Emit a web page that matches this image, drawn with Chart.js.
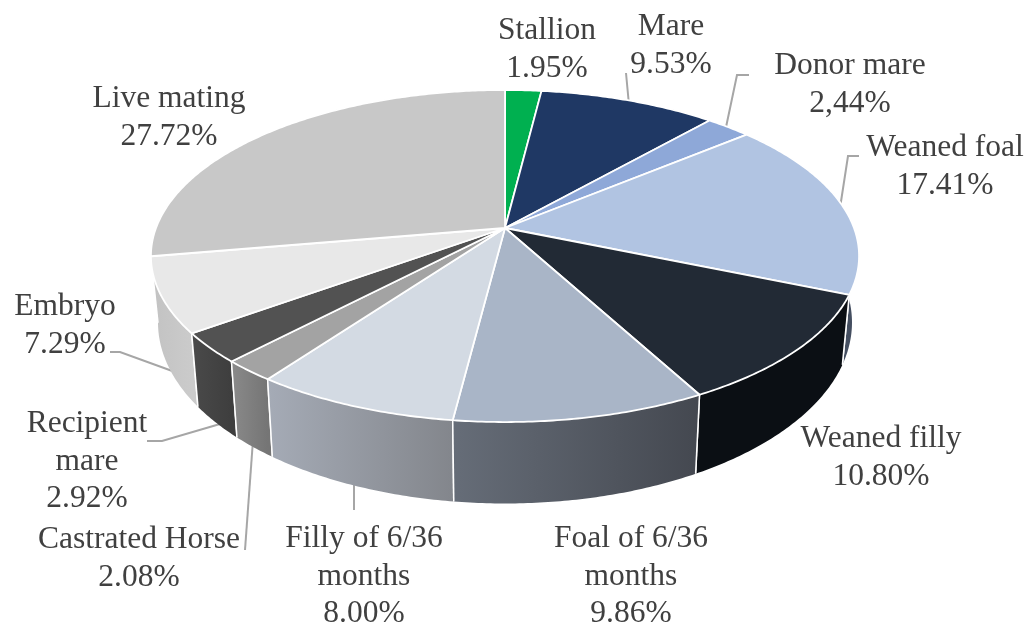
<!DOCTYPE html>
<html>
<head>
<meta charset="utf-8">
<title>Horse categories</title>
<script src="https://cdn.jsdelivr.net/npm/chart.js@4"></script>
<style>
  html, body { margin: 0; padding: 0; background: #fff; }
  canvas { display: block; filter: blur(0.5px); }
</style>
</head>
<body>
<canvas id="chart" width="1029" height="625"></canvas>
<script>
const categories = ['Stallion', 'Mare', 'Donor mare', 'Weaned foal', 'Weaned filly', 'Foal of 6/36 months', 'Filly of 6/36 months', 'Castrated Horse', 'Recipient mare', 'Embryo', 'Live mating'];
const shares = [1.95, 9.53, 2.44, 17.41, 10.80, 9.86, 8.00, 2.08, 2.92, 7.29, 27.72];
const shareTexts = ['1.95%', '9.53%', '2,44%', '17.41%', '10.80%', '9.86%', '8.00%', '2.08%', '2.92%', '7.29%', '27.72%'];

const topColors = ['#00b050', '#1f3864', '#8ea8d8', '#b1c4e2', '#222a35', '#a9b5c7', '#d3dae3', '#a3a3a3', '#525252', '#e8e8e8', '#c8c8c8'];
// wall gradient, left colour then right colour
const wallColors = [
  ['#007a38', '#007a38'], ['#101d36', '#101d36'], ['#5f7396', '#5f7396'], ['#56627a', '#444e60'],
  ['#0b0f14', '#0b0f14'], ['#666d78', '#444850'], ['#a5abb6', '#83868c'], ['#8a8a8a', '#757575'],
  ['#4a4a4a', '#3e3e3e'], ['#c2c2c2', '#cbcbcb'], ['#9a9a9a', '#9a9a9a']
];

// wrapped label lines above the percentage, with centre x and first baseline
const labelLines = [['Stallion'], ['Mare'], ['Donor mare'], ['Weaned foal'], ['Weaned filly'], ['Foal of 6/36', 'months'], ['Filly of 6/36', 'months'], ['Castrated Horse'], ['Recipient', 'mare'], ['Embryo'], ['Live mating']];
const labelX = [547, 671, 850, 945, 881, 631, 364, 139, 87, 65, 169];
const labelY = [39, 35, 74, 156, 447, 547, 547, 548, 432, 315, 107];
const leaderLines = [
  [[629, 105], [626, 73]],
  [[725, 132], [737, 75], [749, 75]],
  [[840, 208], [848, 156], [859, 156]],
  [[110, 352], [120, 352], [175, 372]],
  [[147, 441], [162, 441], [220, 424]],
  [[245, 550], [253, 440]],
  [[354, 480], [354, 510]]
];

// perspective of the pie disc
const cx = 505, cy = 228, rx = 349, ry = 161.3, tilt = -0.1687;
const bottomDrop = 64, bottomScaleX = 0.98, bottomScaleY = 1.09;

function project(angle, bottom) {
  const u = Math.cos(angle), v = Math.sin(angle), d = 1 + tilt * v;
  const X = rx * u / d, Y = ry * v / d;
  if (bottom) return [cx + X * bottomScaleX, cy + bottomDrop + Y * bottomScaleY];
  return [cx + X, cy + Y];
}

function rim(ctx, a0, a1, bottom) {
  const steps = Math.max(2, Math.ceil(Math.abs(a1 - a0) / 0.01));
  for (let i = 0; i <= steps; i++) {
    const p = project(a0 + (a1 - a0) * i / steps, bottom);
    ctx.lineTo(p[0], p[1]);
  }
}

const pie3d = {
  id: 'pie3d',
  beforeDatasetDraw(chart) {
    const ctx = chart.ctx;
    const arcs = chart.getDatasetMeta(0).data;
    const order = arcs.map((a, i) => i).sort((i, j) =>
      Math.sin((arcs[i].startAngle + arcs[i].endAngle) / 2) - Math.sin((arcs[j].startAngle + arcs[j].endAngle) / 2));

    ctx.save();
    // leader lines go under the pie
    ctx.strokeStyle = '#a6a6a6';
    ctx.lineWidth = 2;
    leaderLines.forEach(line => {
      ctx.beginPath();
      line.forEach(p => ctx.lineTo(p[0], p[1]));
      ctx.stroke();
    });

    ctx.lineJoin = 'round';
    // side walls, back to front
    order.forEach(i => {
      const a = arcs[i];
      const g = ctx.createLinearGradient(
        Math.min(project(a.startAngle)[0], project(a.endAngle)[0]), 0,
        Math.max(project(a.startAngle)[0], project(a.endAngle)[0]), 0);
      g.addColorStop(0, wallColors[i][0]);
      g.addColorStop(1, wallColors[i][1]);
      ctx.beginPath();
      rim(ctx, a.startAngle, a.endAngle, false);
      rim(ctx, a.endAngle, a.startAngle, true);
      ctx.closePath();
      ctx.fillStyle = g;
      ctx.fill();
      ctx.strokeStyle = '#fff';
      ctx.lineWidth = 1.5;
      [a.startAngle, a.endAngle].forEach(e => {
        const p = project(e), q = project(e, true);
        if (Math.sin(e) > 0.1) {
          ctx.beginPath();
          ctx.moveTo(p[0], p[1]);
          ctx.lineTo(q[0], q[1]);
          ctx.stroke();
        }
      });
    });
    // top faces
    arcs.forEach((a, i) => {
      ctx.beginPath();
      ctx.moveTo(cx, cy);
      rim(ctx, a.startAngle, a.endAngle, false);
      ctx.closePath();
      ctx.fillStyle = topColors[i];
      ctx.fill();
      ctx.strokeStyle = '#fff';
      ctx.lineWidth = 1.8;
      ctx.stroke();
    });
    ctx.restore();
    return false;
  },
  afterDatasetsDraw(chart) {
    const ctx = chart.ctx;
    ctx.save();
    ctx.fillStyle = '#404040';
    ctx.font = '31.5px "Liberation Serif"';
    ctx.textAlign = 'center';
    ctx.textBaseline = 'alphabetic';
    labelLines.forEach((lines, i) => {
      [...lines, shareTexts[i]].forEach((t, n) => {
        ctx.fillText(t, labelX[i], labelY[i] + n * 37.5);
      });
    });
    ctx.restore();
  }
};

new Chart(document.getElementById('chart'), {
  type: 'pie',
  data: {
    labels: categories,
    datasets: [{ data: shares, backgroundColor: topColors, borderColor: '#fff' }]
  },
  options: {
    responsive: false,
    animation: false,
    plugins: { legend: { display: false }, tooltip: { enabled: false } }
  },
  plugins: [pie3d]
});
</script>
</body>
</html>
